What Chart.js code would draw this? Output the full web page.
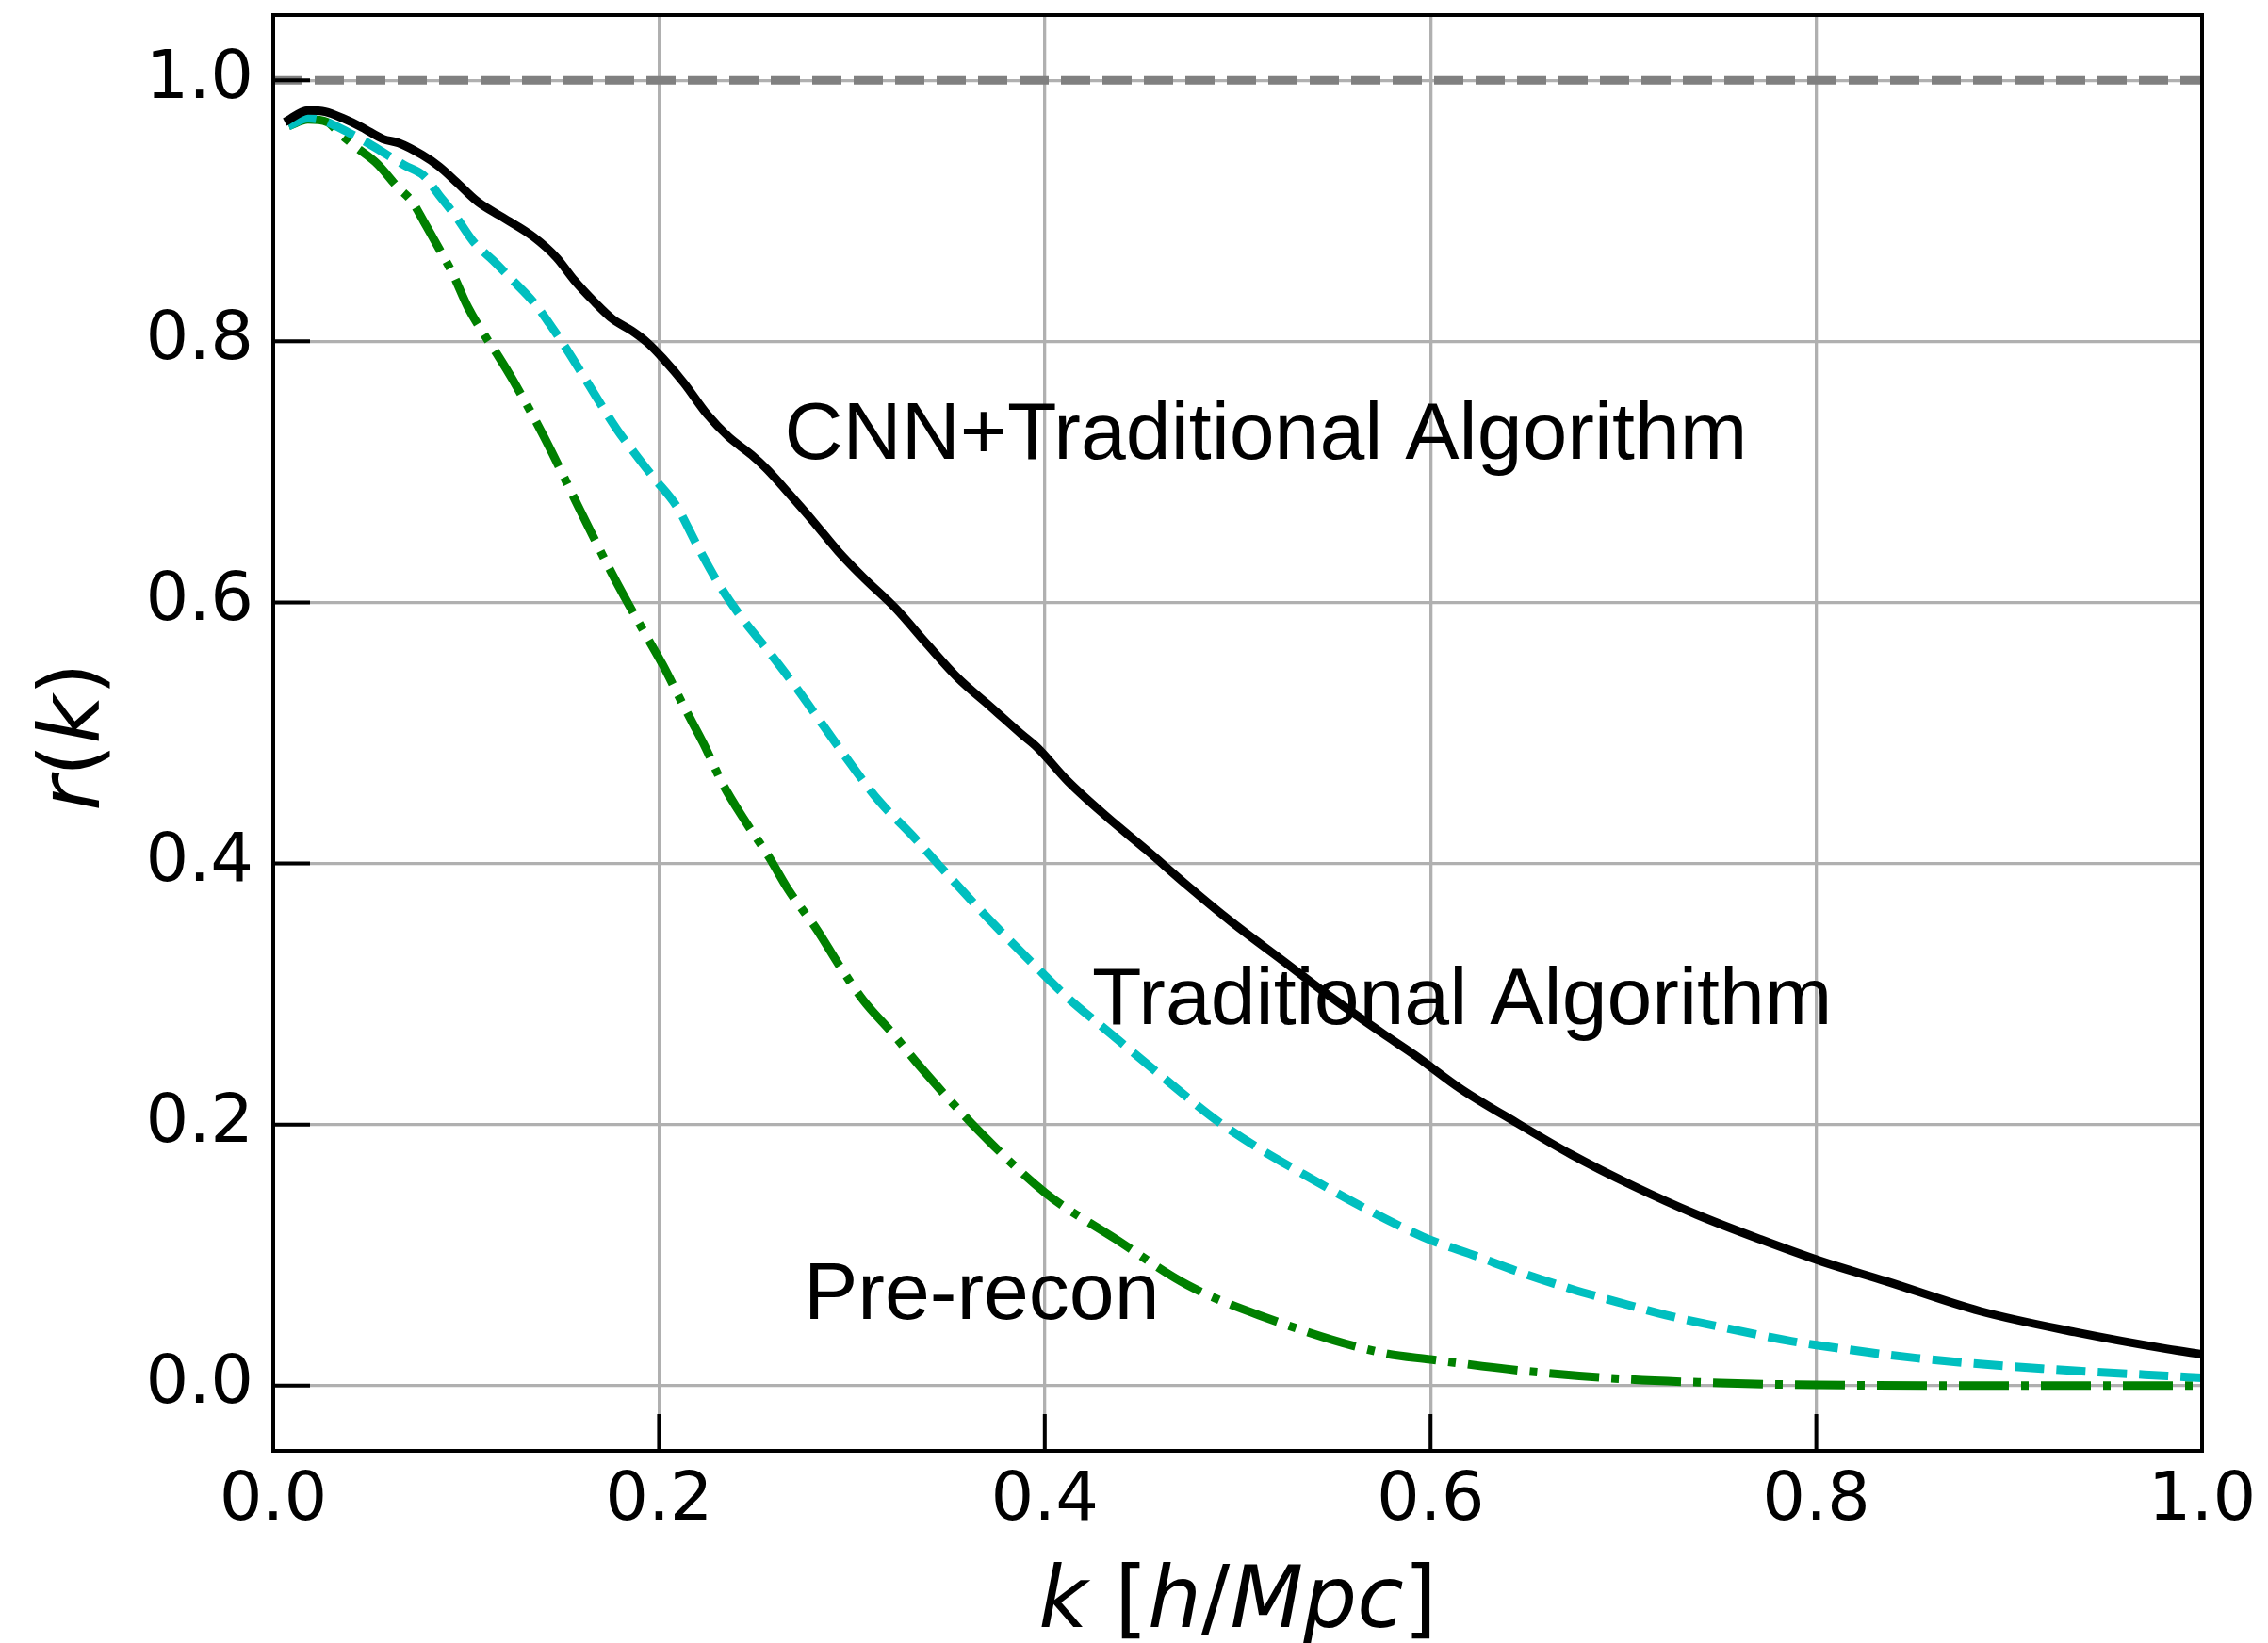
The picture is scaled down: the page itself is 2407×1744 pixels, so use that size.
<!DOCTYPE html>
<html>
<head>
<meta charset="utf-8">
<title>r(k)</title>
<script src="https://cdn.jsdelivr.net/npm/chart.js@4.4.1/dist/chart.umd.min.js"></script>
<style>
  html, body { margin: 0; padding: 0; background: #ffffff; }
  canvas { display: block; }
</style>
</head>
<body>
<canvas id="rkChart" width="2407" height="1744"></canvas>
<script>
// Valores (k em h/Mpc, r adimensional)
const kCnn = [0.006, 0.018, 0.027, 0.036, 0.046, 0.057, 0.065, 0.077, 0.086, 0.095, 0.106, 0.119, 0.135, 0.147, 0.156, 0.166, 0.176, 0.186, 0.194, 0.202, 0.213, 0.225, 0.236, 0.248, 0.256, 0.267, 0.280, 0.293, 0.306, 0.323, 0.339, 0.355, 0.372, 0.388, 0.396, 0.412, 0.432, 0.453, 0.474, 0.497, 0.523, 0.549, 0.575, 0.592, 0.616, 0.645, 0.673, 0.705, 0.738, 0.771, 0.803, 0.836, 0.885, 0.934, 0.982, 1.0];
const rCnn = [0.968, 0.977, 0.976, 0.971, 0.964, 0.955, 0.952, 0.943, 0.934, 0.922, 0.907, 0.895, 0.880, 0.864, 0.847, 0.831, 0.817, 0.808, 0.799, 0.787, 0.768, 0.744, 0.727, 0.713, 0.702, 0.684, 0.662, 0.639, 0.619, 0.595, 0.568, 0.542, 0.520, 0.499, 0.489, 0.463, 0.436, 0.410, 0.383, 0.355, 0.326, 0.297, 0.270, 0.253, 0.227, 0.201, 0.177, 0.153, 0.131, 0.112, 0.095, 0.080, 0.057, 0.041, 0.028, 0.024];

const kTrad = [0.008, 0.018, 0.026, 0.039, 0.049, 0.059, 0.068, 0.078, 0.086, 0.095, 0.104, 0.114, 0.124, 0.135, 0.143, 0.153, 0.161, 0.178, 0.187, 0.197, 0.209, 0.220, 0.231, 0.243, 0.256, 0.271, 0.285, 0.300, 0.314, 0.331, 0.345, 0.370, 0.396, 0.412, 0.433, 0.459, 0.492, 0.534, 0.596, 0.624, 0.648, 0.673, 0.697, 0.722, 0.750, 0.787, 0.800, 0.852, 0.917, 0.982, 1.0];
const rTrad = [0.965, 0.971, 0.969, 0.960, 0.952, 0.943, 0.935, 0.927, 0.912, 0.895, 0.876, 0.862, 0.847, 0.830, 0.814, 0.792, 0.773, 0.733, 0.715, 0.696, 0.674, 0.643, 0.614, 0.588, 0.564, 0.535, 0.506, 0.475, 0.448, 0.422, 0.399, 0.359, 0.320, 0.297, 0.271, 0.239, 0.200, 0.162, 0.114, 0.099, 0.086, 0.074, 0.064, 0.054, 0.045, 0.034, 0.031, 0.021, 0.013, 0.0074, 0.006];

const kPre = [0.008, 0.018, 0.028, 0.034, 0.042, 0.054, 0.064, 0.072, 0.078, 0.086, 0.093, 0.101, 0.109, 0.117, 0.124, 0.140, 0.158, 0.176, 0.192, 0.202, 0.213, 0.223, 0.233, 0.244, 0.257, 0.267, 0.282, 0.293, 0.306, 0.321, 0.335, 0.362, 0.400, 0.437, 0.474, 0.511, 0.575, 0.600, 0.650, 0.700, 0.750, 0.800, 0.900, 1.0];
const rPre = [0.965, 0.970, 0.968, 0.960, 0.950, 0.936, 0.919, 0.907, 0.892, 0.871, 0.852, 0.826, 0.806, 0.788, 0.771, 0.728, 0.674, 0.621, 0.578, 0.552, 0.520, 0.492, 0.461, 0.434, 0.405, 0.380, 0.349, 0.323, 0.295, 0.270, 0.245, 0.201, 0.148, 0.112, 0.077, 0.054, 0.025, 0.020, 0.011, 0.005, 0.002, 0.0005, 0.0, 0.0];

// linha de referencia r = 1
const kRef = [0, 1];
const rRef = [1, 1];

const tickValues = [0, 0.2, 0.4, 0.6, 0.8, 1.0];

// textos dentro do grafico (posicao em coordenadas de dados)
const noteText = ['CNN+Traditional Algorithm', 'Traditional Algorithm', 'Pre-recon'];
const noteK = [0.265, 0.4245, 0.275];
const noteR = [0.71, 0.277, 0.051];

function toPoints(ks, rs) {
    return ks.map((k, i) => ({ x: k, y: rs[i] }));
}

// Desenha um texto com partes em italico e partes normais
function drawParts(ctx, parts, size) {
    let total = 0;
    parts.forEach(p => {
        ctx.font = (p.it ? 'italic ' : '') + size + 'px "DejaVu Sans"';
        p.w = ctx.measureText(p.t).width;
        total += p.w;
    });
    let x = -total / 2;
    parts.forEach(p => {
        ctx.font = (p.it ? 'italic ' : '') + size + 'px "DejaVu Sans"';
        ctx.fillText(p.t, x, 0);
        x += p.w;
    });
}

// moldura, ticks para dentro, anotacoes e titulos dos eixos
const framePlugin = {
    id: 'frame',
    afterDatasetsDraw(chart) {
        const ctx = chart.ctx;
        const a = chart.chartArea;
        const xs = chart.scales.x;
        const ys = chart.scales.y;
        ctx.save();
        ctx.strokeStyle = '#000000';
        ctx.lineWidth = 4;
        ctx.lineCap = 'butt';
        tickValues.forEach(v => {
            const py = ys.getPixelForValue(v);
            ctx.beginPath();
            ctx.moveTo(a.left, py);
            ctx.lineTo(a.left + 39, py);
            ctx.stroke();
            const px = xs.getPixelForValue(v);
            ctx.beginPath();
            ctx.moveTo(px, a.bottom);
            ctx.lineTo(px, a.bottom - 39);
            ctx.stroke();
        });
        ctx.strokeRect(a.left, a.top, a.right - a.left, a.bottom - a.top);

        ctx.fillStyle = '#000000';
        ctx.textAlign = 'left';
        ctx.textBaseline = 'alphabetic';
        ctx.font = '86px "Liberation Sans"';
        noteText.forEach((t, i) => {
            ctx.fillText(t, xs.getPixelForValue(noteK[i]), ys.getPixelForValue(noteR[i]));
        });

        // titulo do eixo x
        ctx.save();
        ctx.translate((a.left + a.right) / 2, 1727);
        drawParts(ctx, [
            { t: 'k', it: true }, { t: ' [', it: false }, { t: 'h', it: true },
            { t: '/', it: false }, { t: 'Mpc', it: true }, { t: ']', it: false }
        ], 90);
        ctx.restore();

        // titulo do eixo y
        ctx.save();
        ctx.translate(105, (a.top + a.bottom) / 2 + 4);
        ctx.rotate(-Math.PI / 2);
        drawParts(ctx, [
            { t: 'r', it: true }, { t: '(', it: false }, { t: 'k', it: true }, { t: ')', it: false }
        ], 89);
        ctx.restore();
        ctx.restore();
    }
};

window.onload = function() {
    const ctx = document.getElementById('rkChart').getContext('2d');
    const tickFont = { family: '"DejaVu Sans"', size: 72 };

    new Chart(ctx, {
        type: 'line',
        data: {
            datasets: [{
                label: 'CNN+Traditional Algorithm',
                data: toPoints(kCnn, rCnn),
                borderColor: '#000000',
                borderWidth: 9,
                borderJoinStyle: 'round',
                cubicInterpolationMode: 'monotone',
                pointRadius: 0,
                fill: false,
                clip: 0,
                order: 0
            }, {
                label: 'Traditional Algorithm',
                data: toPoints(kTrad, rTrad),
                borderColor: '#00bfbf',
                borderWidth: 9,
                borderDash: [31, 13],
                cubicInterpolationMode: 'monotone',
                pointRadius: 0,
                fill: false,
                clip: 0,
                order: 1
            }, {
                label: 'Pre-recon',
                data: toPoints(kPre, rPre),
                borderColor: '#008000',
                borderWidth: 9,
                borderDash: [53, 13, 8, 13],
                cubicInterpolationMode: 'monotone',
                pointRadius: 0,
                fill: false,
                clip: 0,
                order: 2
            }, {
                label: 'r = 1',
                data: toPoints(kRef, rRef),
                borderColor: '#808080',
                borderWidth: 9,
                borderDash: [31, 13],
                pointRadius: 0,
                fill: false,
                clip: 0,
                order: 3
            }]
        },
        options: {
            responsive: false,
            animation: false,
            devicePixelRatio: 1,
            layout: { padding: { top: 16, right: 70, left: 0, bottom: 0 } },
            plugins: {
                legend: { display: false },
                tooltip: { enabled: false }
            },
            scales: {
                x: {
                    type: 'linear',
                    min: 0,
                    max: 1,
                    afterBuildTicks: s => { s.ticks = tickValues.map(v => ({ value: v })); },
                    afterFit: s => { s.height = 204; s.paddingLeft = 0; s.paddingRight = 0; },
                    ticks: {
                        font: tickFont,
                        color: '#000000',
                        padding: 11,
                        maxRotation: 0,
                        callback: v => v.toFixed(1)
                    },
                    grid: { color: '#b0b0b0', lineWidth: 3.3, drawTicks: false },
                    border: { display: false }
                },
                y: {
                    type: 'linear',
                    min: -0.05,
                    max: 1.05,
                    afterBuildTicks: s => { s.ticks = tickValues.map(v => ({ value: v })); },
                    afterFit: s => { s.width = 290; s.paddingTop = 0; s.paddingBottom = 0; },
                    ticks: {
                        font: tickFont,
                        color: '#000000',
                        padding: 21,
                        callback: v => v.toFixed(1)
                    },
                    grid: { color: '#b0b0b0', lineWidth: 3.3, drawTicks: false },
                    border: { display: false }
                }
            }
        },
        plugins: [framePlugin]
    });
};
</script>
</body>
</html>
